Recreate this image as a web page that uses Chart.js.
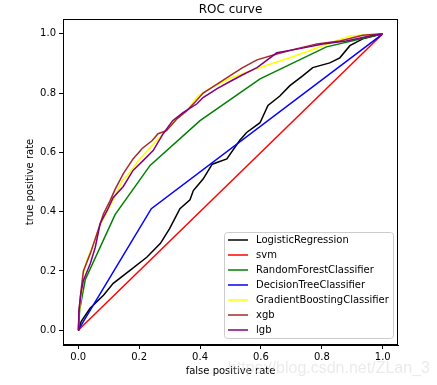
<!DOCTYPE html>
<html lang="en">
<head>
    <meta charset="UTF-8">
    <title>ROC curve</title>
    <script src="https://cdn.jsdelivr.net/npm/chart.js"></script>
    <style>
        html, body { margin: 0; padding: 0; background: #fff; }
        #wrap { width: 437px; height: 385px; }
    </style>
</head>
<body>
    <div id="wrap"><canvas id="rocChart" width="437" height="385"></canvas></div>

    <script>
        // ROC points: false positive rate / true positive rate
        const fprLR  = [0, 0.01, 0.039, 0.083, 0.115, 0.17, 0.225, 0.27, 0.30, 0.334, 0.367, 0.378, 0.41, 0.44, 0.488, 0.53, 0.553, 0.597, 0.623, 0.662, 0.695, 0.738, 0.77, 0.826, 0.859, 0.892, 0.934, 1];
        const tprLR  = [0, 0.03, 0.074, 0.118, 0.158, 0.202, 0.246, 0.293, 0.343, 0.41, 0.44, 0.471, 0.51, 0.56, 0.578, 0.64, 0.667, 0.70, 0.758, 0.79, 0.825, 0.859, 0.886, 0.902, 0.919, 0.96, 0.983, 1];

        const fprSVM = [0, 1];
        const tprSVM = [0, 1];

        const fprRF  = [0, 0.005, 0.023, 0.121, 0.236, 0.4, 0.597, 0.815, 1];
        const tprRF  = [0, 0.07, 0.17, 0.39, 0.556, 0.707, 0.848, 0.956, 1];

        const fprDT  = [0, 0.24, 1];
        const tprDT  = [0, 0.41, 1];

        const fprGB  = [0, 0.003, 0.01, 0.017, 0.03, 0.05, 0.07, 0.09, 0.12, 0.145, 0.16, 0.2, 0.24, 0.28, 0.32, 0.36, 0.393, 0.44, 0.5, 0.55, 0.607, 0.695, 0.803, 0.892, 1];
        const tprGB  = [0, 0.06, 0.12, 0.19, 0.24, 0.29, 0.35, 0.39, 0.45, 0.505, 0.52, 0.575, 0.62, 0.665, 0.71, 0.745, 0.79, 0.82, 0.85, 0.87, 0.89, 0.919, 0.96, 0.993, 1];

        const fprXGB = [0, 0.003, 0.01, 0.017, 0.04, 0.062, 0.083, 0.105, 0.121, 0.148, 0.18, 0.21, 0.243, 0.262, 0.29, 0.325, 0.357, 0.384, 0.41, 0.456, 0.5, 0.54, 0.587, 0.652, 0.718, 0.784, 0.859, 0.934, 1];
        const tprXGB = [0, 0.07, 0.14, 0.2, 0.26, 0.327, 0.393, 0.438, 0.475, 0.528, 0.578, 0.613, 0.64, 0.663, 0.673, 0.714, 0.741, 0.77, 0.8, 0.83, 0.86, 0.886, 0.912, 0.932, 0.95, 0.966, 0.976, 0.995, 1];

        const fprLGB = [0, 0.002, 0.008, 0.017, 0.04, 0.056, 0.072, 0.095, 0.115, 0.148, 0.18, 0.213, 0.246, 0.279, 0.31, 0.344, 0.39, 0.41, 0.456, 0.5, 0.54, 0.587, 0.652, 0.728, 0.803, 0.88, 0.957, 1];
        const tprLGB = [0, 0.06, 0.12, 0.168, 0.226, 0.28, 0.36, 0.404, 0.448, 0.485, 0.539, 0.572, 0.606, 0.663, 0.707, 0.734, 0.764, 0.785, 0.815, 0.84, 0.862, 0.886, 0.936, 0.95, 0.966, 0.976, 0.993, 1];

        const modelNames = ['LogisticRegression', 'svm', 'RandomForestClassifier', 'DecisionTreeClassifier', 'GradientBoostingClassifier', 'xgb', 'lgb'];
        const modelColors = ['#000000', '#ff0000', '#008000', '#0000ff', '#ffff00', '#a52a2a', '#800080'];
        const axisTicks = [0, 0.2, 0.4, 0.6, 0.8, 1.0];

        const curves = [
            [fprLR, tprLR], [fprSVM, tprSVM], [fprRF, tprRF], [fprDT, tprDT],
            [fprGB, tprGB], [fprXGB, tprXGB], [fprLGB, tprLGB]
        ];

        const FONT = 'DejaVu Sans';

        // matplotlib style frame, title, legend inside the axes, and the watermark
        const decorPlugin = {
            id: 'decor',
            afterDraw(chart) {
                const ctx = chart.ctx;
                const a = chart.chartArea;
                ctx.save();

                ctx.strokeStyle = '#000';
                ctx.lineWidth = 1;
                ctx.strokeRect(a.left + 0.5, a.top + 0.5, a.right - a.left - 1, a.bottom - a.top - 1);

                ctx.fillStyle = '#000';
                ctx.font = '12px ' + FONT;
                ctx.textAlign = 'center';
                ctx.textBaseline = 'alphabetic';
                ctx.fillText('ROC curve', (a.left + a.right) / 2, 13);

                // legend box
                const bx = 224, by = 232, bw = 169, bh = 106;
                ctx.fillStyle = 'rgba(255,255,255,0.8)';
                ctx.strokeStyle = '#cccccc';
                ctx.beginPath();
                ctx.roundRect(bx + 0.5, by + 0.5, bw, bh, 3);
                ctx.fill();
                ctx.stroke();

                ctx.font = '10px ' + FONT;
                ctx.textAlign = 'left';
                ctx.textBaseline = 'middle';
                modelNames.forEach((name, i) => {
                    const y = 240 + i * 15;
                    ctx.strokeStyle = modelColors[i];
                    ctx.lineWidth = 1.5;
                    ctx.beginPath();
                    ctx.moveTo(228, y);
                    ctx.lineTo(248, y);
                    ctx.stroke();
                    ctx.fillStyle = '#000';
                    ctx.fillText(name, 256, y);
                });

                ctx.font = '16px "Liberation Sans"';
                ctx.fillStyle = 'rgba(215,215,215,0.5)';
                ctx.textBaseline = 'alphabetic';
                ctx.fillText('https://blog.csdn.net/ZLan_3', 228, 373);

                ctx.restore();
            }
        };

        const datasets = curves.map((c, i) => ({
            label: modelNames[i],
            data: c[0].map((x, k) => ({ x: x, y: c[1][k] })),
            borderColor: modelColors[i],
            backgroundColor: modelColors[i],
            borderWidth: 1.5,
            showLine: true,
            pointRadius: 0,
            tension: 0,
            order: curves.length - i
        }));

        const axisCommon = {
            type: 'linear',
            min: -0.05,
            max: 1.05,
            afterBuildTicks: (s) => { s.ticks = axisTicks.map(v => ({ value: v })); },
            grid: { display: true, drawOnChartArea: false, drawTicks: true, tickLength: 4, color: '#000' },
            border: { display: true, color: '#000', width: 1 },
            ticks: {
                color: '#000',
                font: { family: FONT, size: 10 },
                callback: (v) => Number(v).toFixed(1),
                maxRotation: 0,
                autoSkip: false
            }
        };

        new Chart(document.getElementById('rocChart'), {
            type: 'scatter',
            data: { datasets: datasets },
            options: {
                responsive: false,
                animation: false,
                layout: { padding: { left: 0, right: 39, top: 19, bottom: 0 } },
                plugins: {
                    legend: { display: false },
                    title: { display: false },
                    tooltip: { enabled: false }
                },
                scales: {
                    x: Object.assign({}, axisCommon, {
                        ticks: Object.assign({}, axisCommon.ticks, { padding: 2 }),
                        title: { display: true, text: 'false positive rate', color: '#000',
                                 font: { family: FONT, size: 10 }, padding: { top: 0, bottom: 8 } },
                        afterFit: (s) => { s.height = 40; }
                    }),
                    y: Object.assign({}, axisCommon, {
                        ticks: Object.assign({}, axisCommon.ticks, { padding: 3 }),
                        title: { display: true, text: 'true positive rate', color: '#000',
                                 font: { family: FONT, size: 10 }, padding: { top: 24, bottom: 0 } },
                        afterFit: (s) => { s.width = 63; }
                    })
                }
            },
            plugins: [decorPlugin]
        });
    </script>
</body>
</html>
